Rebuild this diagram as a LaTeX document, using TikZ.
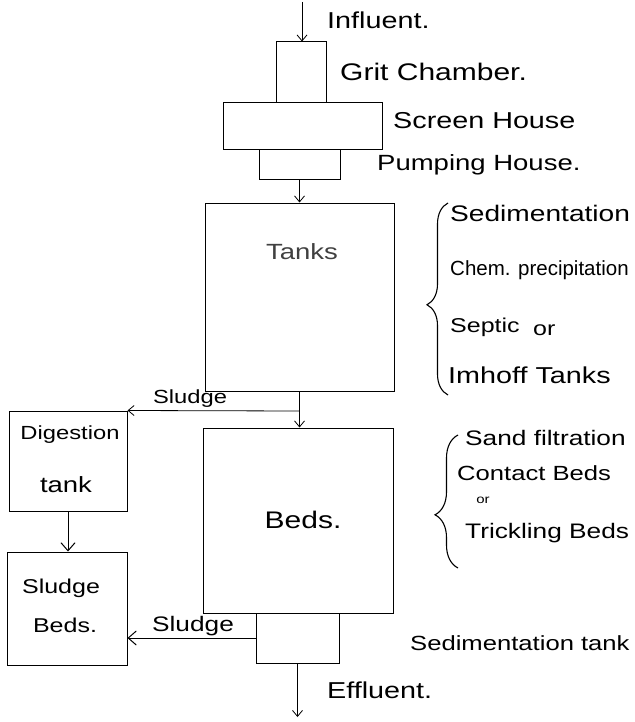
\documentclass[tikz,border=0pt]{standalone}
\usepackage{fontspec}
\newfontfamily\hw{Liberation Sans}[FakeStretch=1.25]
\newfontfamily\hwn{Liberation Sans}[FakeStretch=1.0]
\usetikzlibrary{arrows.meta,decorations.pathreplacing}
\newcommand\fsz[1]{\fontsize{#1}{#1}\selectfont}
\begin{document}
\begin{tikzpicture}[x=1pt,y=-1pt,
  box/.style={draw, line width=1pt, inner sep=0},
  arr/.style={line width=0.8pt, -{Straight Barb[length=6pt,width=10pt]}},
  bigarr/.style={line width=1pt, -{Straight Barb[length=8pt,width=14pt]}},
  lab/.style={inner sep=0, anchor=west},
  ctr/.style={inner sep=0, anchor=center},
  brc/.style={decorate, line width=1.1pt}]
\useasboundingbox (0,0) rectangle (634,722);

% boxes
\node[box, minimum width=50pt,  minimum height=61pt]  (grit)   at (301,72.5)   {};
\node[box, minimum width=159pt, minimum height=47pt]  (screen) at (302.5,126.5) {};
\node[box, minimum width=81pt,  minimum height=30pt]  (pump)   at (299.5,165)  {};
\node[box, minimum width=189pt, minimum height=188pt] (tanks)  at (299.5,297)  {};
\node[box, minimum width=190pt, minimum height=185pt] (beds)   at (298,520.5)  {};
\node[box, minimum width=83pt,  minimum height=50pt]  (sed)    at (297.5,638)  {};
\node[box, minimum width=118pt, minimum height=100pt] (dig)    at (68,461)     {};
\node[box, minimum width=120pt, minimum height=113pt] (sbeds)  at (67,608.5)   {};

% texts in boxes
\node[ctr, font=\hw\fsz{22}, text=black!75] (tTanks) at (302,252) {Tanks};
\node[ctr, font=\hw\fsz{24}] (tBeds) at (303,520) {Beds.};
\node[ctr, font=\hw\fsz{19}] (tDig) at (70,435) {Digestion};
\node[ctr, font=\hw\fsz{22}] (tTank) at (66,485) {tank};
\node[ctr, font=\hw\fsz{20}] (tSl) at (61,588) {Sludge};
\node[ctr, font=\hw\fsz{20}] (tSb) at (65,625) {Beds.};

% connectors
\coordinate (infl) at (302,2);
\draw[arr] (infl) -- (infl |- grit.north);
\draw[arr] (pump.south) -- (tanks.north);
\draw[arr] (tanks.south) -- (tanks.south |- beds.north);
\coordinate (sj) at (299.5,411);
\draw[arr] (sj) -- (dig.north east);
\node[ctr, font=\hw\fsz{19}] (tSludge1) at (190,399) {Sludge};
\draw[bigarr] (dig.south) -- (dig.south |- sbeds.north);
\draw[bigarr] (sed.west) -- (sed.west -| sbeds.east);
\node[ctr, font=\hw\fsz{21}] (tSludge2) at (193,626) {Sludge};
\coordinate (eff) at (300,717);
\draw[arr] (sed.south) -- (sed.south |- eff);

% braces
\draw[brc, decoration={brace, amplitude=21pt, aspect=0.47}] (448,395) -- (448,203);
\draw[brc, decoration={brace, amplitude=23pt, aspect=0.4}] (458,568) -- (458,435);

% side labels
\node[lab, font=\hw\fsz{23}] (tInfl) at (327,20) {Influent.};
\node[lab, font=\hw\fsz{24}] (tGrit) at (340,72) {Grit Chamber.};
\node[lab, font=\hw\fsz{23}] (tScreen) at (393,121) {Screen House};
\node[lab, font=\hw\fsz{22}] (tPump) at (377,165) {Pumping House.};

\node[lab, font=\hw\fsz{22.5}] (tS1) at (450,213) {Sedimentation};
\node[lab, font=\hwn\fsz{20.5}] (tS2) at (450,270) {Chem. precipitation};
\node[lab, font=\hw\fsz{20}] (tS3) at (450,327) {Septic};
\node[lab, font=\hw\fsz{20}] (tS3b) at (533,330) {or};
\node[lab, font=\hw\fsz{23}] (tS4) at (448,375) {Imhoff Tanks};

\node[lab, font=\hw\fsz{21}] (tB1) at (465,438) {Sand filtration};
\node[lab, font=\hw\fsz{20.5}] (tB2) at (457,473) {Contact Beds};
\node[ctr, font=\hw\fsz{12}] (tB3) at (483,500) {or};
\node[lab, font=\hw\fsz{21}] (tB4) at (465,533) {Trickling Beds};

\node[lab, font=\hw\fsz{20.5}] (tSed) at (410,643) {Sedimentation tank};
\node[lab, font=\hw\fsz{23}] (tEff) at (327,690) {Effluent.};
\end{tikzpicture}
\end{document}
